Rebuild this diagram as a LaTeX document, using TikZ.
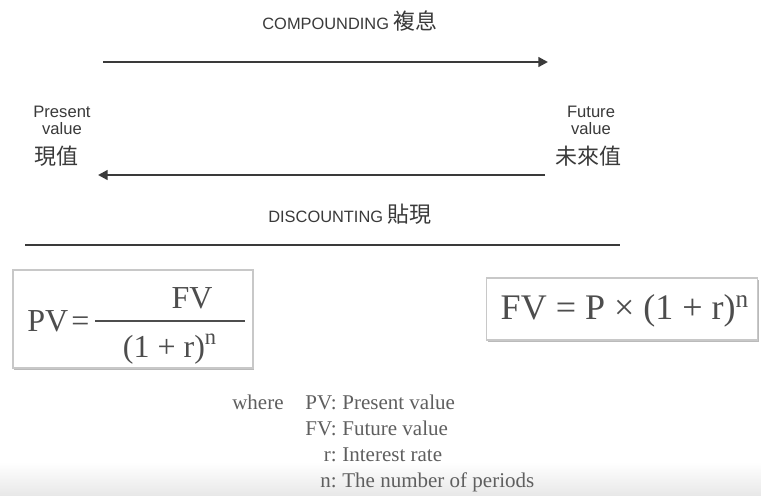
\documentclass[tikz,border=0pt]{standalone}
\usepackage{fontspec}
\setmainfont{Liberation Serif}
\setsansfont{Liberation Sans}
\newfontfamily\cjk{Noto Sans CJK TC}
\usetikzlibrary{arrows.meta,positioning,calc,shadows}
\definecolor{ink}{HTML}{3A3A3A}
\definecolor{eqgray}{HTML}{4D4D4D}
\definecolor{framegray}{HTML}{C8C8C8}

\begin{document}
\begin{tikzpicture}[x=0.5pt,y=-0.5pt,>={Triangle[length=4.8pt,width=4.8pt]},
  flow/.style={draw=ink,line width=1.1pt},
  side/.style={font=\sffamily\fontsize{8.3}{8.5}\selectfont,text=ink,align=center,inner sep=0pt},
  han/.style={font=\cjk\fontsize{11}{13}\selectfont,text=ink,inner sep=0pt},
  caption/.style={font=\sffamily\fontsize{8.2}{10}\selectfont,text=ink,inner sep=0pt},
  eqbox/.style={draw=framegray,fill=white,line width=0.6pt,
    drop shadow={shadow xshift=0.6pt,shadow yshift=-0.9pt,fill=black!45,opacity=0.6}},
  eq/.style={font=\fontsize{16}{18}\selectfont,text=eqgray,inner sep=0pt},
  key/.style={font=\fontsize{10.5}{12}\selectfont,text=eqgray!90,inner sep=0pt}]
\fill[white] (0,0) rectangle (761,495);
\useasboundingbox (0,0) rectangle (761,495);
\shade[top color=white,bottom color=black!9] (0,462) rectangle (761,495);
% the two directions
\node[caption] (comp) at (350,21) {COMPOUNDING {\cjk\fontsize{11}{13}\selectfont 複息}};
\coordinate (c1) at (103,62);
\coordinate (c2) at (548,62);
\draw[flow,->] (c1) -- (c2);
\node[side] (pv) at (62,120) {Present\\value};
\node[han] (pvzh) at (56,156) {現值};
\node[side] (fv) at (591,120) {Future\\value};
\node[han] (fvzh) at (588,156) {未來值};
\coordinate (d1) at (545,175);
\coordinate (d2) at (98,175);
\draw[flow,->] (d1) -- (d2);
\node[caption] (disc) at (350,214) {DISCOUNTING {\cjk\fontsize{11}{13}\selectfont 貼現}};
\coordinate (s1) at (25,245);
\coordinate (s2) at (620,245);
\draw[flow] (s1) -- (s2);
% formulas
\node[eqbox,minimum width=120pt,minimum height=49pt] (pvbox) at (133,319) {};
\node[eq,anchor=base west] (pvlhs) at (27,331) {PV\kern1.5pt=};
\coordinate (f1) at (95,321);
\coordinate (f2) at (245,321);
\draw[eqgray,line width=0.8pt] (f1) -- (f2);
\node[eq,anchor=base] (num) at (192,308) {FV};
\node[eq,anchor=base] (den) at (170,357) {(1 + r)\textsuperscript{n}};
\node[eqbox,minimum width=135.5pt,minimum height=31pt] (fvbox) at (622,309) {};
\node[eq,font=\fontsize{18}{20}\selectfont] (fvform) at (625,311) {FV = P × (1 + r)\textsuperscript{n}};
% legend
\node[key,anchor=base east] (where) at (284,409) {where};
\foreach \i/\sym/\txt in {0/PV/Present value,1/FV/Future value,2/r/Interest rate,3/n/The number of periods}{
  \node[key,anchor=base east] (k\i) at (337,{409+26*\i}) {\sym:};
  \node[key,anchor=base west] (t\i) at (342,{409+26*\i}) {\txt};}
\end{tikzpicture}
\end{document}
